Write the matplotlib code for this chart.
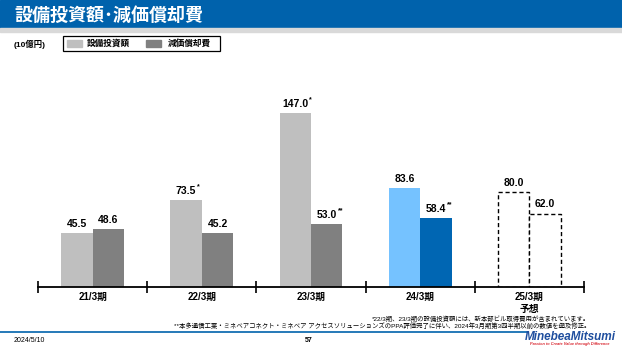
import numpy as np
import matplotlib
matplotlib.use("Agg")
import matplotlib.pyplot as plt
from matplotlib.patches import Rectangle

plt.rcParams['font.family'] = ['Liberation Sans', 'Noto Sans CJK JP', 'DejaVu Sans']

# data (10億円)
periods = ['21/3期', '22/3期', '23/3期', '24/3期', '25/3期']
capex = [45.5, 73.5, 147.0, 83.6, 80.0]
depreciation = [48.6, 45.2, 53.0, 58.4, 62.0]
capex_marks = ['', '*', '*', '', '']
dep_marks = ['', '', '**', '**', '']

W, H = 622, 350
fig = plt.figure(figsize=(W / 100, H / 100), dpi=100)


def px(x, y):
    # pixel coords (top-left origin) -> figure fraction
    return x / W, 1 - y / H


# header bar
fig.patches.append(Rectangle(px(0, 28), 1, 28 / H, transform=fig.transFigure,
                             color='#0062AC', zorder=0))
fig.patches.append(Rectangle(px(0, 32), 1, 4 / H, transform=fig.transFigure,
                             color='#D9D9D9', zorder=0))
fig.text(*px(14, 15), '設備投資額･減価償却費', color='white', fontsize=13,
         fontweight='bold', va='center', ha='left', family=['Noto Sans CJK JP'])

# unit + legend box
fig.text(*px(14, 44), '(10億円)', fontsize=6, fontweight='bold', va='center')
fig.patches.append(Rectangle(px(63, 51), 157 / W, 15 / H, transform=fig.transFigure,
                             fill=False, edgecolor='black', lw=0.9))
fig.patches.append(Rectangle(px(67, 47), 15 / W, 7 / H, transform=fig.transFigure,
                             color='#BFBFBF'))
fig.text(*px(87, 43.5), '設備投資額', fontsize=6.2, fontweight='bold', va='center')
fig.patches.append(Rectangle(px(146, 47), 15 / W, 7 / H, transform=fig.transFigure,
                             color='#808080'))
fig.text(*px(168, 43.5), '減価償却費', fontsize=6.2, fontweight='bold', va='center')

# chart axes
x0, x1, ybase, ytop = 38, 584, 287, 62
ax = fig.add_axes([x0 / W, 1 - ybase / H, (x1 - x0) / W, (ybase - ytop) / H])
ymax = (ybase - ytop) / 1.185
ax.set_xlim(-0.5, len(periods) - 0.5)
ax.set_ylim(0, ymax)

x = np.arange(len(periods))
bw = 0.288
light = ['#BFBFBF', '#BFBFBF', '#BFBFBF', '#75C2FF', 'white']
dark = ['#808080', '#808080', '#808080', '#0066B3', 'white']
fs = 7.5

for i in range(len(periods)):
    forecast = i == len(periods) - 1
    kw = dict(edgecolor='black', linewidth=1.0, linestyle=(0, (3, 2))) if forecast else dict(linewidth=0)
    ax.bar(x[i] - bw / 2, capex[i], bw, color=light[i], zorder=2, **kw)
    ax.bar(x[i] + bw / 2, depreciation[i], bw, color=dark[i], zorder=2, **kw)

    for xc, v, mark in [(x[i] - bw / 2, capex[i], capex_marks[i]),
                        (x[i] + bw / 2, depreciation[i], dep_marks[i])]:
        label = f'{v:.1f}'
        ax.annotate(label, (xc, v), xytext=(0, 3), textcoords='offset points',
                    ha='center', va='bottom', fontsize=fs, fontweight='bold')
        if mark:
            half = (0.556 * (len(label) - 1) + 0.278) * fs / 2
            ax.annotate(mark, (xc, v), xytext=(half + 0.6, 12), textcoords='offset points',
                        ha='left', va='top', fontsize=5, fontweight='bold')

for s in ['top', 'right', 'left']:
    ax.spines[s].set_visible(False)
ax.spines['bottom'].set_linewidth(1.3)
ax.spines['bottom'].set_zorder(3)
ax.set_yticks([])
ax.set_xticks(np.arange(-0.5, len(periods), 1.0))
ax.set_xticklabels([])
ax.tick_params(axis='x', direction='inout', length=8, width=1.2)
ax.set_facecolor('none')

for i, p in enumerate(periods):
    ax.annotate(p, (x[i], 0), xytext=(0, -3.5), textcoords='offset points',
                ha='center', va='top', fontsize=7, fontweight='bold')
ax.annotate('予想', (x[-1], 0), xytext=(0, -12), textcoords='offset points',
            ha='center', va='top', fontsize=7, fontweight='bold')

# footnotes
fig.text(*px(590, 318.5), '*22/3期、23/3期の設備投資額には、新本部ビル取得費用が含まれています。',
         fontsize=4.6, ha='right', va='center')
fig.text(*px(590, 326),
         '**本多通信工業・ミネベアコネクト・ミネベア アクセスソリューションズのPPA評価完了に伴い、'
         '2024年3月期第3四半期以前の数値を遡及修正。',
         fontsize=4.6, ha='right', va='center')

# footer
fig.add_artist(plt.Line2D([0, 527 / W], [1 - 332 / H] * 2, color='#0062AC', lw=1.2,
                          transform=fig.transFigure))
fig.text(*px(14, 341), '2024/5/10', fontsize=5, va='center')
fig.text(*px(309, 341), '57', fontsize=5, fontweight='bold', va='center', ha='center')
fig.text(*px(570, 337), 'MinebeaMitsumi', fontsize=8.5, fontweight='bold', style='italic',
         color='#1F4E9E', ha='center', va='center')
fig.text(*px(570, 344.5), 'Passion to Create Value through Difference', fontsize=2.8,
         fontweight='bold', style='italic', color='#D9252E', ha='center', va='center')

fig.savefig('out.png', dpi=100)
